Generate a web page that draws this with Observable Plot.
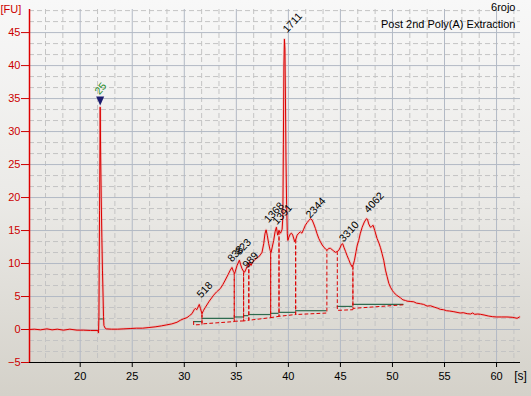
<!DOCTYPE html>
<html><head><meta charset="utf-8">
<script src="https://cdn.jsdelivr.net/npm/d3@7"></script>
<script src="https://cdn.jsdelivr.net/npm/@observablehq/plot@0.6"></script>
<style>
html,body{margin:0;padding:0;background:#e6e4df;}
#chart{width:531px;height:396px;background:linear-gradient(to bottom,#f8f8f8 0%,#ebeae7 50%,#d4d1c9 100%);overflow:hidden;}
#chart svg{display:block;}
</style></head><body><div id="chart"></div>
<script>
// electropherogram trace: [time (s), fluorescence (FU)]
const trace = [
[15.13,0],[15.6,0.05],[16.2,-0.05],[16.8,0.1],[17.3,-0.05],[17.8,0.05],[18.4,-0.1],[19.0,0.05],[19.7,-0.1],[20.3,-0.1],
[21.0,-0.15],[21.7,-0.15],[21.76,-0.5],[21.8,2],[21.86,18],[21.92,33.7],[21.97,26],[22.02,20],[22.08,14],[22.14,9],
[22.2,5],[22.24,2],[22.28,0.6],[22.4,0.2],[22.5,0.1],[23.0,0.05],[23.6,0.05],[24.2,0.1],[24.8,0.15],[25.4,0.2],
[26.0,0.2],[26.6,0.3],[27.2,0.4],[27.8,0.55],[28.3,0.7],[28.8,0.85],[29.3,1.1],[29.62,1.4],[29.9,1.6],[30.26,1.8],
[30.5,2.1],[30.74,2.4],[30.95,3.0],[31.06,3.2],[31.2,3.0],[31.44,3.8],[31.55,3.2],[31.7,2.4],[31.85,2.9],[32.0,3.3],
[32.4,4.3],[32.82,5.2],[33.1,5.7],[33.46,6.2],[33.7,6.8],[33.94,7.5],[34.2,8.3],[34.42,9.0],[34.58,9.4],[34.72,8.8],
[34.84,8.5],[35.07,9.7],[35.29,10.5],[35.42,9.8],[35.55,9.2],[35.7,8.8],[35.8,8.7],[36.03,9.5],[36.25,10.2],[36.41,9.7],
[36.6,10.3],[36.73,10.5],[36.95,10.8],[37.14,11.0],[37.3,11.3],[37.47,11.7],[37.63,13.0],[37.75,14.5],[37.86,15.1],[37.98,14.2],
[38.11,13.0],[38.25,12.0],[38.34,11.7],[38.45,12.5],[38.59,13.5],[38.72,14.8],[38.85,15.5],[38.97,14.3],[39.1,15.0],[39.25,14.6],
[39.4,15.2],[39.47,17],[39.52,28],[39.57,40],[39.62,44.0],[39.67,42.5],[39.72,35],[39.77,26],[39.83,19],[39.9,14.5],
[39.95,13.5],[40.05,14.0],[40.19,14.5],[40.3,14.6],[40.42,14.3],[40.61,13.3],[40.7,13.6],[40.84,14.3],[41.0,14.6],[41.15,14.8],
[41.3,14.6],[41.47,15.2],[41.63,15.8],[41.8,16.2],[41.95,16.5],[42.12,16.8],[42.28,16.6],[42.44,16.0],[42.6,15.3],[42.76,14.5],
[42.92,13.8],[43.08,13.3],[43.25,12.8],[43.4,12.5],[43.56,12.2],[43.72,12.0],[43.88,12.3],[44.04,12.3],[44.2,12.1],[44.36,11.9],
[44.52,11.7],[44.68,11.8],[44.84,12.0],[45.0,12.5],[45.1,12.9],[45.22,13.0],[45.35,12.4],[45.5,11.8],[45.64,11.2],[45.8,10.6],
[45.95,10.0],[46.12,9.5],[46.25,9.9],[46.35,10.5],[46.5,11.8],[46.62,12.8],[46.76,13.5],[46.9,14.5],[47.09,15.5],[47.3,16.3],
[47.5,16.8],[47.6,16.7],[47.72,16.0],[47.88,15.5],[48.0,15.6],[48.14,15.8],[48.3,15.0],[48.52,13.8],[48.7,13.1],[48.85,12.4],
[49.0,11.5],[49.16,10.5],[49.33,9.0],[49.49,8.0],[49.65,7.0],[49.81,6.4],[50.0,5.9],[50.13,5.6],[50.4,5.2],[50.77,4.8],
[51.0,4.5],[51.25,4.4],[51.4,4.3],[51.7,4.25],[52.05,4.2],[52.3,4.0],[52.7,3.9],[53.0,3.8],[53.33,3.55],[53.65,3.6],
[54.0,3.4],[54.3,3.25],[54.6,3.05],[54.9,3.0],[55.2,2.85],[55.5,2.8],[55.9,2.7],[56.2,2.6],[56.5,2.5],[56.8,2.55],
[57.18,2.4],[57.5,2.35],[57.7,2.5],[57.9,2.3],[58.2,2.35],[58.46,2.3],[58.8,2.2],[59.2,2.05],[59.59,1.95],[60.0,1.9],
[60.5,1.9],[61.0,1.9],[61.5,1.85],[61.97,1.7],[62.2,1.9]
];

// peak integration regions
const regionStart = [30.9, 31.7, 34.8, 35.7, 36.2, 38.3, 39.1, 40.7, 44.7, 46.2];
const regionEnd   = [31.7, 34.8, 35.7, 36.2, 38.3, 39.1, 40.7, 43.7, 46.2, 51.1];
const baseStart   = [0.7, 0.85, 1.25, 1.3, 1.4, 1.8, 2.0, 2.27, 2.9, 3.2];
const baseEnd     = [0.75, 1.2, 1.3, 1.4, 1.8, 2.0, 2.27, 2.5, 3.0, 3.75];
const topStart    = [1.2, 2.4, 8.5, 8.8, 10.0, 11.8, 15.0, 13.6, 11.8, 9.7];
const topEnd      = [2.4, 8.5, 8.8, 10.0, 11.8, 15.0, 13.6, 12.0, 9.7, 3.75];
const greenLevel  = [1.2, 1.7, 1.9, 2.1, 2.27, 2.45, 2.6, 2.85, 3.5, 3.8];

// marker (lower marker) region
const markerStart = 21.8, markerEnd = 22.35, markerGreen = 1.6;
const markerT = 21.92, markerV = 34.65;
const markerLabel = "25", markerLabelT = 21.85, markerLabelV = 35.5;

// peak size labels
const peakLabels = ["518", "838", "823", "989", "1368", "1391", "1711", "2344", "3310", "4062"];
const labelT     = [31.64, 34.59, 35.34, 36.03, 38.1, 38.9, 39.9, 42.1, 45.3, 47.7];
const labelV     = [4.7, 10.15, 11.2, 9.2, 16.1, 15.8, 44.9, 16.8, 13.2, 17.6];

const xTicks = [20, 25, 30, 35, 40, 45, 50, 55, 60];
const yTicks = [-5, 0, 5, 10, 15, 20, 25, 30, 35, 40, 45];
const xDomain = [15.13, 62.3];
const yDomain = [-5, 48.5];
const sampleName = "6rojo";
const sampleNote = "Post 2nd Poly(A) Extraction";
const yUnit = "[FU]";
const xUnit = "[s]";

// build tables
const traceData = trace.map(([t, v]) => ({t, v}));
const dashed = [];
regionStart.forEach((s, i) => {
  dashed.push({t: s, v: topStart[i], z: i});
  dashed.push({t: s, v: baseStart[i], z: i});
  dashed.push({t: regionEnd[i], v: baseEnd[i], z: i});
  dashed.push({t: regionEnd[i], v: topEnd[i], z: i});
});
const greens = regionStart.map((s, i) => ({x1: s, x2: regionEnd[i], y: greenLevel[i]}));
greens.push({x1: markerStart, x2: markerEnd, y: markerGreen});
const labels = peakLabels.map((text, i) => ({text, t: labelT[i], v: labelV[i]}));

const step = 5 / 3;
const minorX = d3.range(15, 63, step).filter(d => d > xDomain[0] + 0.1 && d < xDomain[1] && Math.abs(d / 5 - Math.round(d / 5)) > 0.01);
const minorY = d3.range(-5, 49, step).filter(d => d > -4.9 && d < yDomain[1] && Math.abs(d / 5 - Math.round(d / 5)) > 0.01);
const majorX = xTicks;
const majorY = yTicks.filter(d => d > -5);

const downTriangle = {
  draw(ctx) { ctx.moveTo(-4, -4.5); ctx.lineTo(4, -4.5); ctx.lineTo(0, 4.5); ctx.closePath(); }
};

const RED = "#dd0000";
const font = "Liberation Sans, Arial, sans-serif";

const chart = Plot.plot({
  width: 531,
  height: 396,
  marginLeft: 29,
  marginRight: 11,
  marginTop: 9,
  marginBottom: 34,
  x: {domain: xDomain},
  y: {domain: yDomain},
  style: {background: "transparent", fontFamily: font, fontSize: "11px", overflow: "visible"},
  marks: [
    Plot.ruleX(minorX, {stroke: "#c4c4c4", strokeDasharray: "5,3"}),
    Plot.ruleY(minorY, {stroke: "#c4c4c4", strokeDasharray: "5,3"}),
    Plot.ruleX(majorX, {stroke: "#b2b9c5"}),
    Plot.ruleY(majorY, {stroke: "#b2b9c5"}),
    Plot.ruleY(greens, {y: "y", x1: "x1", x2: "x2", stroke: "#2e6b4f", strokeWidth: 1.2}),
    Plot.line(dashed, {x: "t", y: "v", z: "z", stroke: RED, strokeWidth: 1, strokeDasharray: "3,3"}),
    Plot.line(traceData, {x: "t", y: "v", stroke: "#f08a8a", strokeWidth: 2.6, strokeOpacity: 0.35}),
    Plot.line(traceData, {x: "t", y: "v", stroke: RED, strokeWidth: 1}),
    Plot.dot([{t: markerT, v: markerV}], {x: "t", y: "v", symbol: downTriangle, fill: "#1c1c6e", stroke: null, r: 4}),
    Plot.text([{t: markerLabelT, v: markerLabelV}], {x: "t", y: "v", text: () => markerLabel, rotate: -50, textAnchor: "start", lineAnchor: "bottom", fill: "#1f8a1f", fontSize: 10.5}),
    Plot.text(labels, {x: "t", y: "v", text: "text", rotate: -47, textAnchor: "start", lineAnchor: "bottom", fill: "black", fontSize: 10.5}),
    Plot.ruleX([xDomain[0]], {stroke: RED, strokeWidth: 1.5}),
    Plot.ruleY([yDomain[0]], {stroke: "black", strokeWidth: 1}),
    Plot.axisY({ticks: yTicks, tickSize: 8, tickPadding: 1, label: null, color: "#cc0000", fontSize: 11}),
    Plot.axisX({ticks: xTicks, tickSize: 5, tickPadding: 5, label: null, color: "black", fontSize: 11}),
    Plot.text([yUnit], {frameAnchor: "top-left", dx: -29, dy: 0, textAnchor: "start", lineAnchor: "middle", fill: "#cc0000", fontSize: 11}),
    Plot.text([xUnit], {frameAnchor: "bottom-right", dx: 0, dy: 14, textAnchor: "middle", lineAnchor: "middle", fill: "black", fontSize: 12}),
    Plot.text([sampleName], {frameAnchor: "top-right", dx: -5, dy: -2, textAnchor: "end", lineAnchor: "middle", fill: "black", fontSize: 11}),
    Plot.text([sampleNote], {frameAnchor: "top-right", dx: -5, dy: 15, textAnchor: "end", lineAnchor: "middle", fill: "black", fontSize: 11})
  ]
});
document.getElementById("chart").appendChild(chart);
</script>
</body></html>
